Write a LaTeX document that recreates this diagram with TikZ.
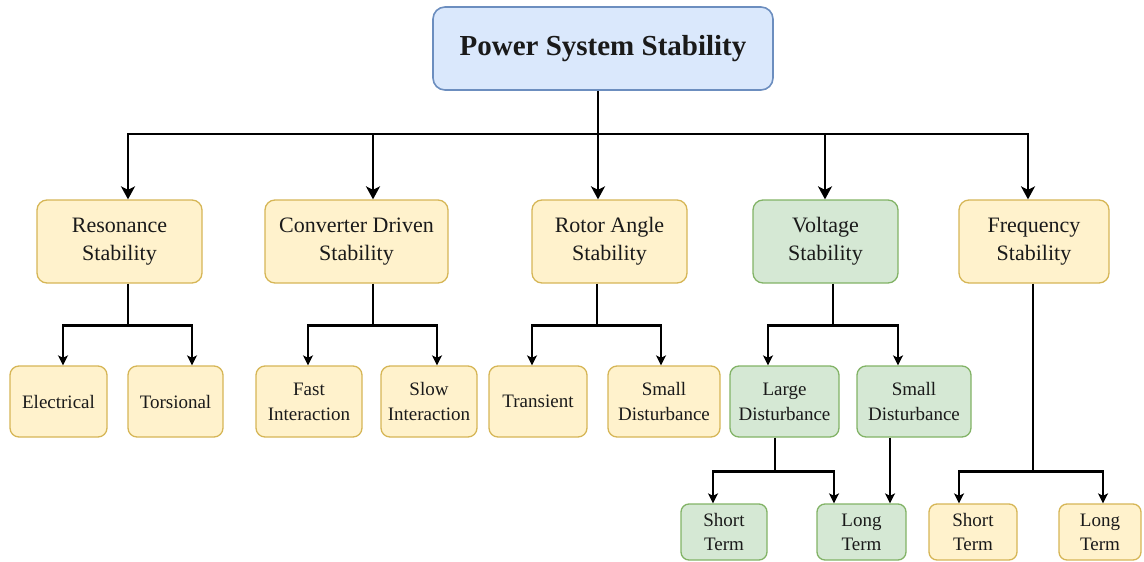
\documentclass[tikz,border=0pt]{standalone}
\usepackage{fontspec}
\setmainfont{Liberation Serif}
\usetikzlibrary{arrows.meta}
\definecolor{yfill}{HTML}{FFF2CC}
\definecolor{ydraw}{HTML}{D6B656}
\definecolor{gfill}{HTML}{D5E8D4}
\definecolor{gdraw}{HTML}{82B366}
\definecolor{bfill}{HTML}{DAE8FC}
\definecolor{bdraw}{HTML}{6C8EBF}
\definecolor{txt}{HTML}{1A1A1A}
\tikzset{
  box/.style={draw, rounded corners=10pt, line width=1.3pt, inner sep=0pt, align=center, text=txt},
  ybox/.style={box, fill=yfill, draw=ydraw},
  gbox/.style={box, fill=gfill, draw=gdraw},
  bbox/.style={box, fill=bfill, draw=bdraw, line width=1.6pt, rounded corners=12pt},
  midsz/.style={minimum width=#1, minimum height=83pt, font=\fontsize{22}{28}\selectfont},
  lowsz/.style={minimum width=#1, minimum height=71pt, rounded corners=9pt, font=\fontsize{19}{25}\selectfont},
  botsz/.style={minimum width=#1, minimum height=56pt, rounded corners=8pt, font=\fontsize{19}{24}\selectfont},
  conn/.style={line width=2.5pt, black},
  arr/.style={conn, -{Stealth[length=13pt,width=14pt,inset=3.5pt]}},
  sarr/.style={conn, -{Stealth[length=10pt,width=10pt,inset=2.5pt]}}
}
\begin{document}
\begin{tikzpicture}[x=1pt,y=-1pt]
\useasboundingbox (0,0) rectangle (1144,562);
% top
\node[bbox, minimum width=340pt, minimum height=83pt, font=\fontsize{29}{34}\selectfont\bfseries] (top) at (603,48.5) {Power System Stability};
% middle row
\node[ybox, midsz=165pt] (res) at (119.5,241.5) {Resonance\\Stability};
\node[ybox, midsz=183pt] (conv) at (356.5,241.5) {Converter Driven\\Stability};
\node[ybox, midsz=155pt] (rot) at (609.5,241.5) {Rotor Angle\\Stability};
\node[gbox, midsz=145pt] (vol) at (825.5,241.5) {Voltage\\Stability};
\node[ybox, midsz=150pt] (freq) at (1034,241.5) {Frequency\\Stability};
% lower row
\node[ybox, lowsz=97pt] (ele) at (58.5,401.5) {Electrical};
\node[ybox, lowsz=95pt] (tor) at (175.5,401.5) {Torsional};
\node[ybox, lowsz=106pt] (fast) at (309,401.5) {Fast\\Interaction};
\node[ybox, lowsz=96pt] (slow) at (429,401.5) {Slow\\Interaction};
\node[ybox, lowsz=98pt] (tra) at (538,401.5) {Transient};
\node[ybox, lowsz=112pt] (sdr) at (664,401.5) {Small\\Disturbance};
\node[gbox, lowsz=109pt] (ldv) at (784.5,401.5) {Large\\Disturbance};
\node[gbox, lowsz=114pt] (sdv) at (914,401.5) {Small\\Disturbance};
% bottom row
\node[gbox, botsz=86pt] (stg) at (724,532) {Short\\Term};
\node[gbox, botsz=89pt] (ltg) at (861.5,532) {Long\\Term};
\node[ybox, botsz=88pt] (sty) at (973,532) {Short\\Term};
\node[ybox, botsz=82pt] (lty) at (1100,532) {Long\\Term};
% top connectors
\draw[conn] ([xshift=-5pt]top.south) -- ++(0,43) coordinate (bus);
\draw[arr] (bus) -| ([xshift=8.5pt]res.north);
\draw[arr] (bus) -| ([xshift=16.5pt]conv.north);
\draw[arr] (bus) -| ([xshift=-11.5pt]rot.north);
\draw[arr] (bus) -| ([xshift=-0.5pt]vol.north);
\draw[arr] (bus) -| ([xshift=-6pt]freq.north);
% resonance
\draw[conn] ([xshift=8.5pt]res.south) -- ++(0,42) coordinate (rb);
\draw[sarr] (rb) -| ([xshift=4.5pt]ele.north);
\draw[sarr] (rb) -| ([xshift=16.5pt]tor.north);
% converter
\draw[conn] ([xshift=16.5pt]conv.south) -- ++(0,42) coordinate (cb);
\draw[sarr] (cb) -| ([xshift=-1pt]fast.north);
\draw[sarr] (cb) -| ([xshift=8pt]slow.north);
% rotor
\draw[conn] ([xshift=-12.5pt]rot.south) -- ++(0,42) coordinate (ob);
\draw[sarr] (ob) -| ([xshift=-6pt]tra.north);
\draw[sarr] (ob) -| ([xshift=-3pt]sdr.north);
% voltage
\draw[conn] ([xshift=7.5pt]vol.south) -- ++(0,42) coordinate (vb);
\draw[sarr] (vb) -| ([xshift=-16.5pt]ldv.north);
\draw[sarr] (vb) -| ([xshift=-16pt]sdv.north);
% large disturbance
\draw[conn] ([xshift=-9.5pt]ldv.south) -- ++(0,34) coordinate (lb);
\draw[sarr] (lb) -| ([xshift=-11pt]stg.north);
\draw[sarr] (lb) -| ([xshift=-27.5pt]ltg.north);
% small disturbance (voltage)
\draw[sarr] ([xshift=-24pt]sdv.south) -- ([xshift=28.5pt]ltg.north);
% frequency
\draw[conn] ([xshift=-1pt]freq.south) -- ++(0,188) coordinate (fb);
\draw[sarr] (fb) -| ([xshift=-14pt]sty.north);
\draw[sarr] (fb) -| ([xshift=3pt]lty.north);
\end{tikzpicture}
\end{document}
